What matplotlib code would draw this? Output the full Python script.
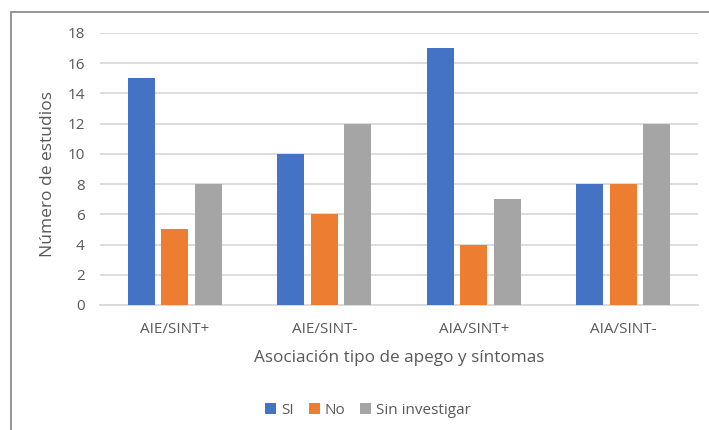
import matplotlib
matplotlib.use("Agg")
import matplotlib.pyplot as plt
from matplotlib.patches import Rectangle, Patch
import numpy as np

categories = ["AIE/SINT+", "AIE/SINT-", "AIA/SINT+", "AIA/SINT-"]
series_names = ["SI", "No", "Sin investigar"]
si = [15, 10, 17, 8]
no = [5, 6, 4, 8]
sin_inv = [8, 12, 7, 12]
yticks = [0, 2, 4, 6, 8, 10, 12, 14, 16, 18]
colors = ["#4472C4", "#ED7D31", "#A5A5A5"]
text_color = "#595959"

plt.rcParams['font.family'] = ['Open Sans', 'DejaVu Sans']

W, H = 709, 430
fig = plt.figure(figsize=(W / 100, H / 100), dpi=100)
fig.patch.set_facecolor("white")

# chart border (only left/top visible in crop)
fig.patches.append(Rectangle((11 / W, -0.1), 1.2, 1 - 12 / H + 0.1,
                             transform=fig.transFigure, fill=False,
                             edgecolor="#8C8C8C", linewidth=1.3))

left, right, top, bottom = 100, 698, 33, 305
ax = fig.add_axes([left / W, 1 - bottom / H, (right - left) / W, (bottom - top) / H])

x = np.arange(len(categories))
bw = 0.18
step = 0.224
for i, (vals, c, name) in enumerate(zip([si, no, sin_inv], colors, series_names)):
    ax.bar(x + (i - 1) * step, vals, width=bw, color=c, label=name, zorder=3)

ax.set_xlim(-0.5, len(categories) - 0.5)
ax.set_ylim(0, 18)
ax.set_yticks(yticks)
ax.set_xticks(x)
ax.set_xticklabels(categories)
ax.yaxis.grid(True, color="#D9D9D9", linewidth=1.3, zorder=0)
ax.set_axisbelow(True)
for s in ["top", "right", "left"]:
    ax.spines[s].set_visible(False)
ax.spines["bottom"].set_color("#D9D9D9")
ax.spines["bottom"].set_linewidth(1.3)
ax.tick_params(axis="both", length=0, colors=text_color, labelsize=11)
ax.tick_params(axis="y", pad=11)
ax.tick_params(axis="x", pad=12)

fig.text(399 / W, 1 - 358 / H, "Asociación tipo de apego y síntomas",
         ha="center", va="center", fontsize=12.3, color=text_color)
fig.text(48 / W, 1 - 174 / H, "Número de estudios", rotation=90,
         ha="center", va="center", fontsize=12.5, color=text_color)

handles = [Patch(facecolor=c, label=n) for c, n in zip(colors, series_names)]
leg = fig.legend(handles=handles, loc="center", bbox_to_anchor=(368 / W, 1 - 410 / H),
                 ncol=3, frameon=False, fontsize=11, handlelength=0.72,
                 handleheight=0.72, handletextpad=0.3, columnspacing=1.0,
                 borderpad=0, borderaxespad=0)
for t in leg.get_texts():
    t.set_color(text_color)

fig.savefig("out.png", dpi=100, facecolor="white")
